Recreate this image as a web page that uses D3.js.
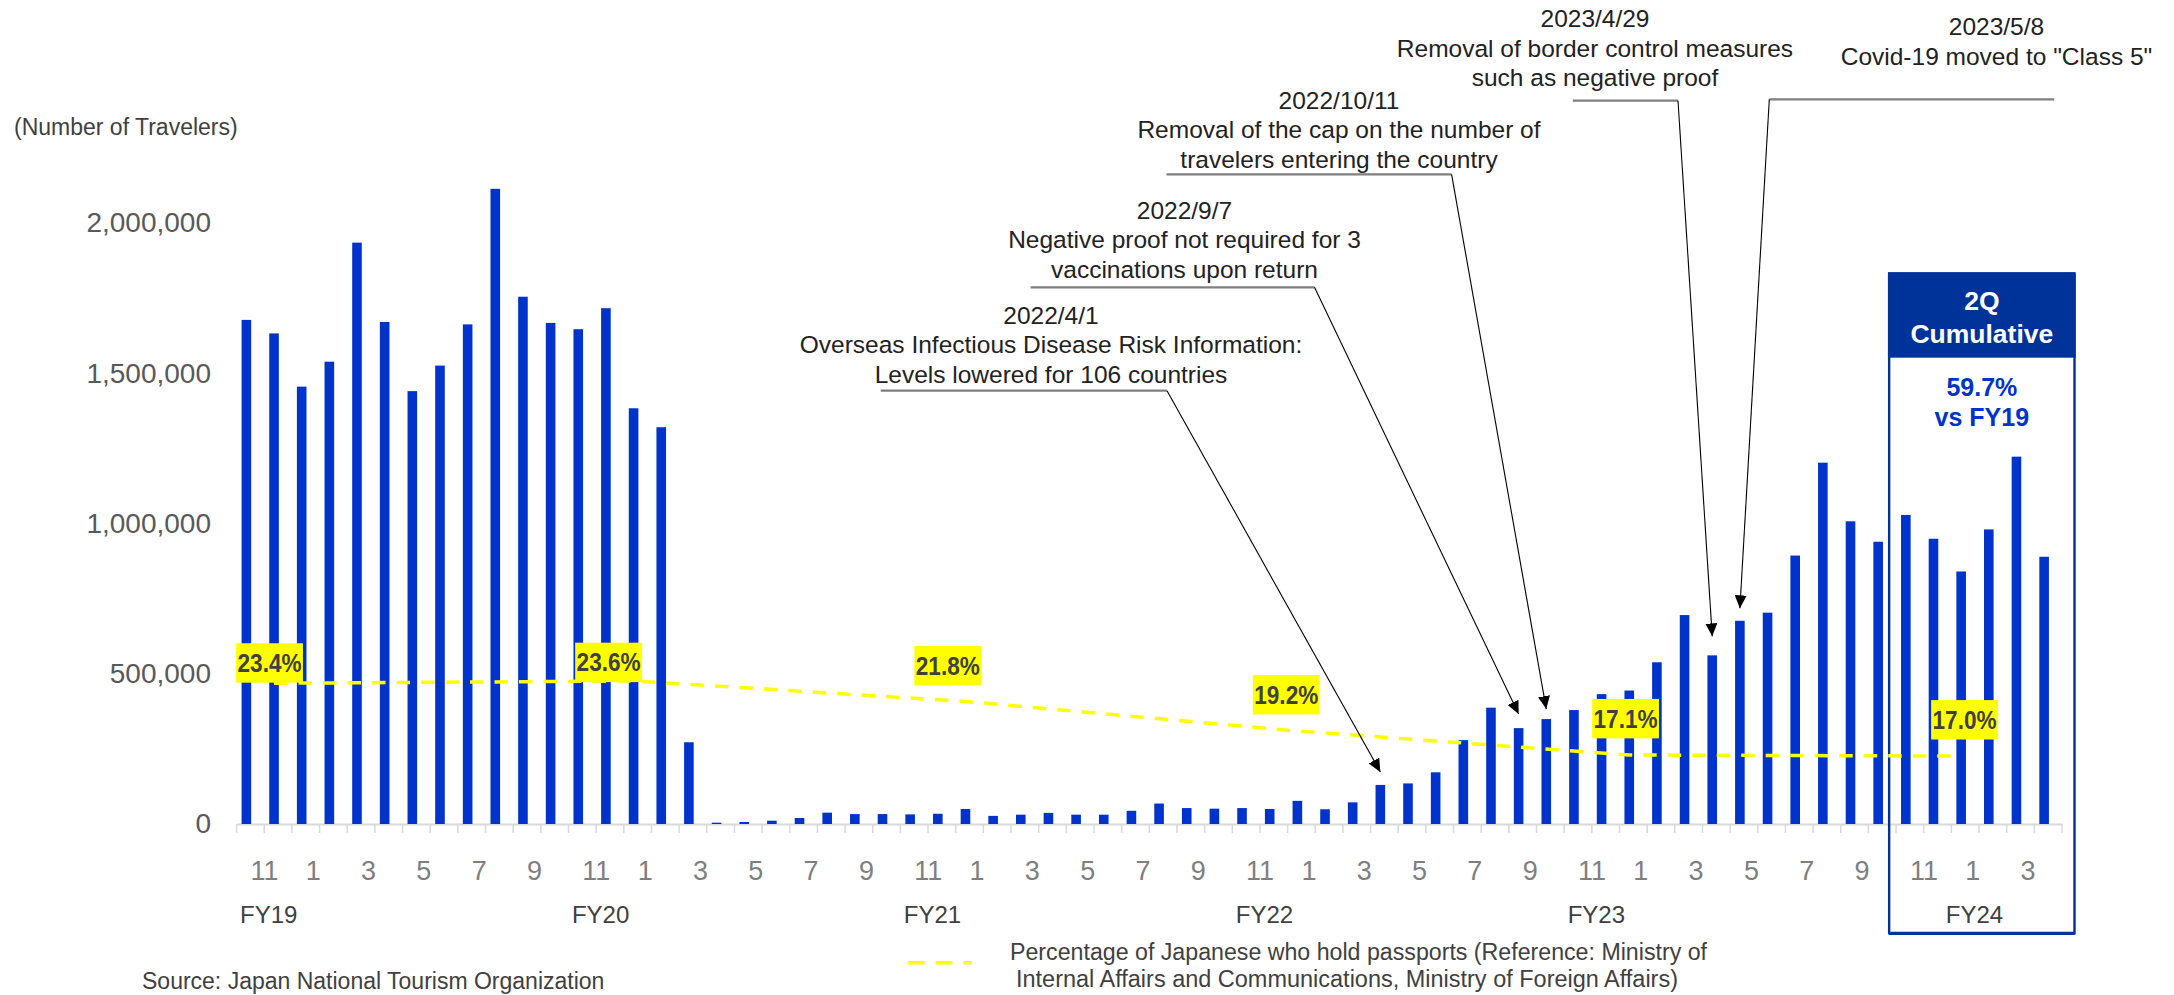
<!DOCTYPE html>
<html>
<head>
<meta charset="utf-8">
<script src="https://cdn.jsdelivr.net/npm/d3@7"></script>
<style>
  html, body { margin: 0; padding: 0; background: #ffffff; }
  svg { display: block; font-family: "Liberation Sans", Arial, sans-serif; }
</style>
</head>
<body>
<svg id="chart" width="2174" height="995"></svg>
<script>
// ---------------------------------------------------------------
// Data
// ---------------------------------------------------------------
// Monthly outbound Japanese travelers, Nov 2018 through Apr 2024
const firstMonth = new Date(2018, 10, 1);
const endMonth = new Date(2024, 4, 1);

const travelers = [
  1677000, 1632000, 1455000, 1538000, 1934000, 1670000, 1440000, 1525000, 1662000,
  2113000, 1754000, 1667000, 1646000, 1716000, 1383000, 1320000, 272000,
  4400, 6700, 11000, 20000, 37700, 33000, 33000, 32000, 34000, 50000, 27000, 31000,
  37000, 31000, 31000, 44000, 68000, 53000, 51000, 53000, 50000, 77000, 49000, 72000,
  130000, 135000, 172000, 279000, 387000, 319000, 349000, 379000, 432000, 444000,
  538000, 695000, 561000, 676000, 703000, 893000, 1202000, 1007000, 939000, 1028000,
  949000, 840000, 980000, 1222000, 889000
];

const yTickValues = [0, 500000, 1000000, 1500000, 2000000];

const fiscalLabels = ["FY19", "FY20", "FY21", "FY22", "FY23", "FY24"];

// Share of Japanese holding a passport
const passportMonths = ["2018-12", "2020-01", "2021-01", "2022-01", "2023-01", "2024-01"];
const passportRates = [23.4, 23.6, 21.8, 19.2, 17.1, 17.0];

// Policy events and the month each one points at
const eventDates = ["2022/4/1", "2022/9/7", "2022/10/11", "2023/4/29", "2023/5/8"];
const eventTexts = [
  ["Overseas Infectious Disease Risk Information:", "Levels lowered for 106 countries"],
  ["Negative proof not required for 3", "vaccinations upon return"],
  ["Removal of the cap on the number of", "travelers entering the country"],
  ["Removal of border control measures", "such as negative proof"],
  ["Covid-19 moved to \"Class 5\""]
];
const eventMonths = ["2022-04", "2022-09", "2022-10", "2023-04", "2023-05"];

const cumulativeTitle = ["2Q", "Cumulative"];
const cumulativeValue = ["59.7%", "vs FY19"];

const axisTitle = "(Number of Travelers)";
const legendLines = [
  "Percentage of Japanese who hold passports (Reference: Ministry of",
  "Internal Affairs and Communications, Ministry of Foreign Affairs)"
];
const sourceText = "Source: Japan National Tourism Organization";

// ---------------------------------------------------------------
// Layout
// ---------------------------------------------------------------
const W = 2174, H = 995;
const plotLeft = 236.6, plotRight = 2062;
const baseY = 824, topY = 72.5;

const BLUE = "#0033cc";
const NAVY = "#003399";
const YELLOW = "#ffff00";

// fiscal-year label anchors: [month, dx]
const fiscalPos = [["2018-12", 4.5], ["2019-12", 4.5], ["2020-12", 4.5],
                   ["2021-12", 4.5], ["2022-12", 4.5], ["2024-02", -4.6]];

// rate label boxes, offset from their line point: [dx, dy to box top]
const rateLabelOffset = [[-4.5, -40], [-25, -38.3], [-17.7, -55.5],
                         [-11.1, -56], [-3.7, -56], [3.4, -56]];

// event annotation layout
const eventLayout = [
  { cx: 1051, base: 323.5, ulY: 390.7, ulX1: 880.7, ulX2: 1167, from: "end", gap: 13 },
  { cx: 1184.5, base: 218.5, ulY: 287.3, ulX1: 1030.6, ulX2: 1314.5, from: "end", gap: 14 },
  { cx: 1339, base: 108.5, ulY: 174.3, ulX1: 1166.5, ulX2: 1451.6, from: "end", gap: 10 },
  { cx: 1595, base: 27, ulY: 100.7, ulX1: 1572.8, ulX2: 1678, from: "end", gap: 19 },
  { cx: 1996.5, base: 35, ulY: 99.3, ulX1: 1769.3, ulX2: 2054.2, from: "start", gap: 12.5 }
];

// ---------------------------------------------------------------
// Scales
// ---------------------------------------------------------------
const keyFmt = d3.timeFormat("%Y-%m");
const monthDates = d3.timeMonth.range(firstMonth, endMonth);
const months = monthDates.map(keyFmt);
const rows = months.map((m, i) => ({ month: m, date: monthDates[i], value: travelers[i] }));

const x = d3.scaleBand().domain(months).range([plotLeft, plotRight]).paddingInner(0).paddingOuter(0);
const bw = x.bandwidth();
const barOff = bw * 0.18, barW = bw * 0.347;
const barCenter = m => x(m) + barOff + barW / 2;

const y = d3.scaleLinear().domain([0, 2500000]).range([baseY, topY]);
const pct = d3.scaleLinear().domain([17.0, 23.6]).range([756.1, 681]);

const svg = d3.select("#chart");
svg.append("rect").attr("width", W).attr("height", H).attr("fill", "#ffffff");

const defs = svg.append("defs");
defs.append("marker")
  .attr("id", "arrow")
  .attr("markerUnits", "userSpaceOnUse")
  .attr("viewBox", "0 0 13 12")
  .attr("markerWidth", 13).attr("markerHeight", 12)
  .attr("refX", 13).attr("refY", 6)
  .attr("orient", "auto")
  .append("path").attr("d", "M0,0 L13,6 L0,12 Z").attr("fill", "#000");

// ---------------------------------------------------------------
// Axes
// ---------------------------------------------------------------
const yAxis = svg.append("g")
  .attr("transform", "translate(211,0)")
  .call(d3.axisLeft(y).tickValues(yTickValues).tickSize(0).tickPadding(0).tickFormat(d3.format(",")));
yAxis.select(".domain").remove();
yAxis.selectAll("text")
  .attr("font-size", 28).attr("fill", "#595959")
  .attr("font-family", "Liberation Sans, Arial, sans-serif");

svg.append("text")
  .attr("x", 14).attr("y", 135)
  .attr("font-size", 23).attr("fill", "#404040")
  .text(axisTitle);

const monthNum = d3.timeFormat("%-m");
const xAxis = svg.append("g")
  .attr("transform", `translate(0,${baseY})`)
  .call(d3.axisBottom(x).tickSize(0).tickSizeOuter(0)
    .tickFormat((m, i) => (i % 2 === 0 ? monthNum(rows[i].date) : "")));
xAxis.select(".domain").attr("stroke", "#d9d9d9").attr("stroke-width", 2);
xAxis.selectAll("text")
  .attr("text-anchor", "start")
  .attr("dy", 0).attr("y", 56)
  .attr("font-size", 27).attr("fill", "#7f7f7f")
  .attr("font-family", "Liberation Sans, Arial, sans-serif");

// boundary tick marks between months
const bounds = months.map(m => x(m)).concat([x.range()[1]]);
svg.append("g").selectAll("line").data(bounds).join("line")
  .attr("x1", d => d).attr("x2", d => d)
  .attr("y1", baseY).attr("y2", baseY + 9)
  .attr("stroke", "#d9d9d9").attr("stroke-width", 1.5);

// fiscal-year labels
svg.append("g").selectAll("text").data(fiscalLabels).join("text")
  .attr("x", (d, i) => x(fiscalPos[i][0]) + fiscalPos[i][1])
  .attr("y", 923)
  .attr("text-anchor", "middle")
  .attr("font-size", 24).attr("fill", "#404040")
  .text(d => d);

// ---------------------------------------------------------------
// Bars
// ---------------------------------------------------------------
svg.append("g").selectAll("rect").data(rows).join("rect")
  .attr("x", d => x(d.month) + barOff)
  .attr("width", barW)
  .attr("y", d => y(d.value))
  .attr("height", d => baseY - y(d.value))
  .attr("fill", BLUE);

// ---------------------------------------------------------------
// 2Q cumulative panel
// ---------------------------------------------------------------
const boxL = x("2023-11") - 6.9, boxR = plotRight + 12.5;
const boxT = 273.3, headB = 357.7, boxB = 933.3;
const boxCx = (boxL + boxR) / 2;
svg.append("rect")
  .attr("x", boxL).attr("y", boxT).attr("width", boxR - boxL).attr("height", boxB - boxT)
  .attr("fill", "none").attr("stroke", NAVY).attr("stroke-width", 2.4);
svg.append("line")
  .attr("x1", boxL).attr("x2", boxR).attr("y1", boxB).attr("y2", boxB)
  .attr("stroke", NAVY).attr("stroke-width", 3.2);
svg.append("rect")
  .attr("x", boxL - 1.2).attr("y", boxT).attr("width", boxR - boxL + 2.4).attr("height", headB - boxT)
  .attr("fill", NAVY);
svg.append("g").selectAll("text").data(cumulativeTitle).join("text")
  .attr("x", boxCx).attr("y", (d, i) => 310 + i * 32.7)
  .attr("text-anchor", "middle").attr("font-weight", "bold")
  .attr("font-size", 26.5).attr("fill", "#ffffff")
  .text(d => d);
svg.append("g").selectAll("text").data(cumulativeValue).join("text")
  .attr("x", boxCx).attr("y", (d, i) => 396 + i * 30)
  .attr("text-anchor", "middle").attr("font-weight", "bold")
  .attr("font-size", 25).attr("fill", BLUE)
  .text(d => d);

// ---------------------------------------------------------------
// Passport holding rate line
// ---------------------------------------------------------------
const ratePts = passportMonths.map((m, i) => ({ month: m, rate: passportRates[i] }));
svg.append("path")
  .datum(ratePts)
  .attr("d", d3.line().x(d => barCenter(d.month)).y(d => pct(d.rate)))
  .attr("fill", "none").attr("stroke", YELLOW)
  .attr("stroke-width", 3.5).attr("stroke-dasharray", "13.5,11");

const rateLab = svg.append("g").selectAll("g").data(ratePts).join("g")
  .attr("transform", (d, i) =>
    `translate(${barCenter(d.month) + rateLabelOffset[i][0]},${pct(d.rate) + rateLabelOffset[i][1]})`);
rateLab.append("rect")
  .attr("x", -33.4).attr("y", 0).attr("width", 66.8).attr("height", 39.4)
  .attr("fill", YELLOW);
rateLab.append("text")
  .attr("x", -32).attr("y", 28.6)
  .attr("font-size", 25.5).attr("font-weight", "bold").attr("fill", "#404040")
  .attr("textLength", 64).attr("lengthAdjust", "spacingAndGlyphs")
  .text(d => d.rate.toFixed(1) + "%");

// ---------------------------------------------------------------
// Event annotations
// ---------------------------------------------------------------
const ev = svg.append("g").selectAll("g").data(eventDates).join("g");
ev.each(function (date, i) {
  const g = d3.select(this);
  const L = eventLayout[i];
  const lines = [date].concat(eventTexts[i]);
  g.selectAll("text").data(lines).join("text")
    .attr("x", L.cx).attr("y", (d, j) => L.base + j * 29.5)
    .attr("text-anchor", "middle")
    .attr("font-size", 24.5).attr("fill", "#222222")
    .text(d => d);
  g.append("line")
    .attr("x1", L.ulX1).attr("x2", L.ulX2).attr("y1", L.ulY).attr("y2", L.ulY)
    .attr("stroke", "#7f7f7f").attr("stroke-width", 2.2);
  const m = eventMonths[i];
  const v = travelers[months.indexOf(m)];
  g.append("line")
    .attr("x1", L.from === "end" ? L.ulX2 : L.ulX1).attr("y1", L.ulY)
    .attr("x2", barCenter(m)).attr("y2", y(v) - L.gap)
    .attr("stroke", "#000").attr("stroke-width", 1.1)
    .attr("marker-end", "url(#arrow)");
});

// ---------------------------------------------------------------
// Legend and source
// ---------------------------------------------------------------
svg.append("line")
  .attr("x1", 908).attr("x2", 972).attr("y1", 962.7).attr("y2", 962.7)
  .attr("stroke", YELLOW).attr("stroke-width", 3.5).attr("stroke-dasharray", "16.7,11");
svg.append("g").selectAll("text").data(legendLines).join("text")
  .attr("x", (d, i) => (i === 0 ? 1010 : 1016))
  .attr("y", (d, i) => 960 + i * 26.7)
  .attr("font-size", 23).attr("fill", "#404040")
  .attr("textLength", (d, i) => (i === 0 ? 697 : 662))
  .attr("lengthAdjust", "spacingAndGlyphs")
  .text(d => d);

svg.append("text")
  .attr("x", 142).attr("y", 989)
  .attr("font-size", 23).attr("fill", "#404040")
  .text(sourceText);
</script>
</body>
</html>
